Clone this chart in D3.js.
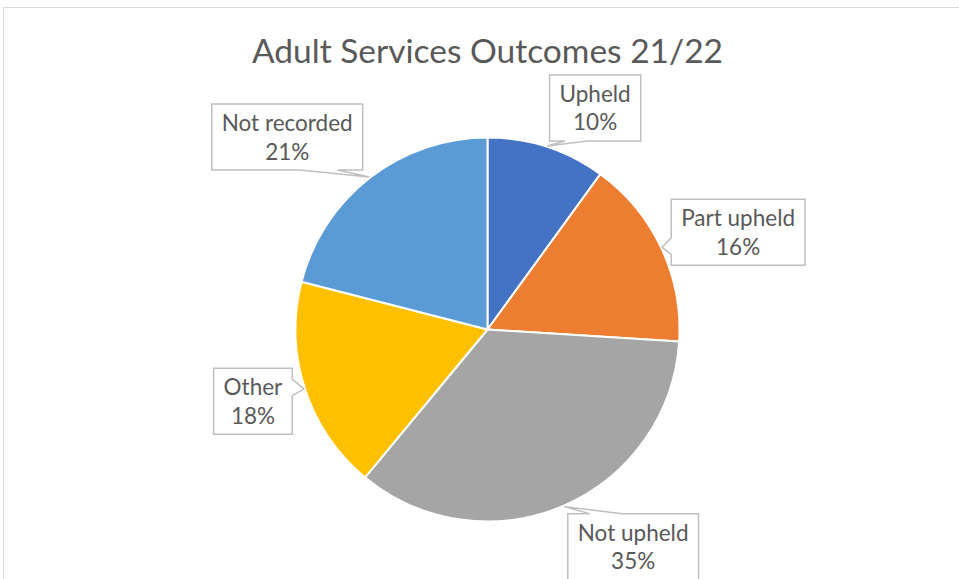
<!DOCTYPE html>
<html>
<head>
<meta charset="utf-8">
<script src="https://cdn.jsdelivr.net/npm/d3@7"></script>
<style>
  html, body { margin: 0; padding: 0; background: #fff; }
  svg { display: block; font-family: Lato, "Open Sans", sans-serif; }
  .title { fill: #595959; font-size: 33.5px; }
  .lbl { fill: #595959; font-size: 22.5px; }
  .callout { fill: #fff; stroke: #bfbfbf; stroke-width: 1.5; }
</style>
</head>
<body>
<svg id="chart"></svg>
<script>
// Adult Services complaint outcomes, share of total (%)
const categories = ["Upheld", "Part upheld", "Not upheld", "Other", "Not recorded"];
const shares = [10, 16, 35, 18, 21];
const colours = ["#4472C4", "#ED7D31", "#A5A5A5", "#FFC000", "#5B9BD5"];

// where each callout box sits relative to the tip of its pointer
const calloutOffset = [[48, -38], [76, -15], [69, 40], [-51, 12], [-82, -40]];

const W = 959, H = 579;
const CX = 487.5, CY = 329.5, R = 192;
const BOX_H = 66, PAD = 10;

const svg = d3.select("#chart").attr("width", W).attr("height", H);

// chart area border (only top/left visible in the crop)
svg.append("rect")
  .attr("x", 3.5).attr("y", 7.5).attr("width", W + 20).attr("height", H + 20)
  .attr("fill", "none").attr("stroke", "#d9d9d9").attr("stroke-width", 1);

svg.append("text")
  .attr("class", "title")
  .attr("x", CX).attr("y", 63)
  .attr("text-anchor", "middle")
  .text("Adult Services Outcomes 21/22");

const data = categories.map((c, i) => ({ name: c, value: shares[i], colour: colours[i], off: calloutOffset[i] }));

const pie = d3.pie().value((d) => d.value).sort(null);
const arc = d3.arc().innerRadius(0).outerRadius(R);
const arcs = pie(data);

const g = svg.append("g").attr("transform", `translate(${CX},${CY})`);

g.selectAll("path.slice")
  .data(arcs)
  .join("path")
  .attr("class", "slice")
  .attr("d", arc)
  .attr("fill", (d) => d.data.colour)
  .attr("stroke", "#fff")
  .attr("stroke-width", 2)
  .attr("stroke-linejoin", "round");

// Office style wedge-rect callout: box (x,y,w,h) with a wedge pointing at (tx,ty)
function calloutPath(x, y, w, h, tx, ty) {
  const cx = x + w / 2, cy = y + h / 2;
  const dx = tx - cx, dy = ty - cy;
  const horiz = Math.abs(dx) / w > Math.abs(dy) / h;
  const p = [];
  if (horiz) {
    const a = dy > 0 ? [y + h * 7 / 12, y + h * 10 / 12] : [y + h * 2 / 12, y + h * 5 / 12];
    if (dx < 0) {
      // wedge on left side
      p.push([x, y], [x + w, y], [x + w, y + h], [x, y + h], [x, a[1]], [tx, ty], [x, a[0]]);
    } else {
      p.push([x, y], [x + w, y], [x + w, a[0]], [tx, ty], [x + w, a[1]], [x + w, y + h], [x, y + h]);
    }
  } else {
    const a = dx > 0 ? [x + w * 7 / 12, x + w * 10 / 12] : [x + w * 2 / 12, x + w * 5 / 12];
    if (dy < 0) {
      // wedge on top side
      p.push([x, y], [a[0], y], [tx, ty], [a[1], y], [x + w, y], [x + w, y + h], [x, y + h]);
    } else {
      p.push([x, y], [x + w, y], [x + w, y + h], [a[1], y + h], [tx, ty], [a[0], y + h], [x, y + h]);
    }
  }
  return "M" + p.map((q) => q.join(",")).join("L") + "Z";
}

const labels = svg.append("g").attr("class", "labels");

arcs.forEach((d) => {
  const mid = (d.startAngle + d.endAngle) / 2;
  const tx = CX + Math.sin(mid) * (R + 1);
  const ty = CY - Math.cos(mid) * (R + 1);
  const bx = tx + d.data.off[0], by = ty + d.data.off[1];

  const lg = labels.append("g");
  const path = lg.append("path").attr("class", "callout");
  const t1 = lg.append("text").attr("class", "lbl").attr("text-anchor", "middle")
    .attr("x", bx).attr("y", by - 6).text(d.data.name);
  const t2 = lg.append("text").attr("class", "lbl").attr("text-anchor", "middle")
    .attr("x", bx).attr("y", by + 22.5).text(d.data.value + "%");

  const tw = Math.max(t1.node().getComputedTextLength(), t2.node().getComputedTextLength());
  const w = tw + 2 * PAD;
  path.attr("d", calloutPath(bx - w / 2, by - BOX_H / 2, w, BOX_H, tx, ty));
});
</script>
</body>
</html>
